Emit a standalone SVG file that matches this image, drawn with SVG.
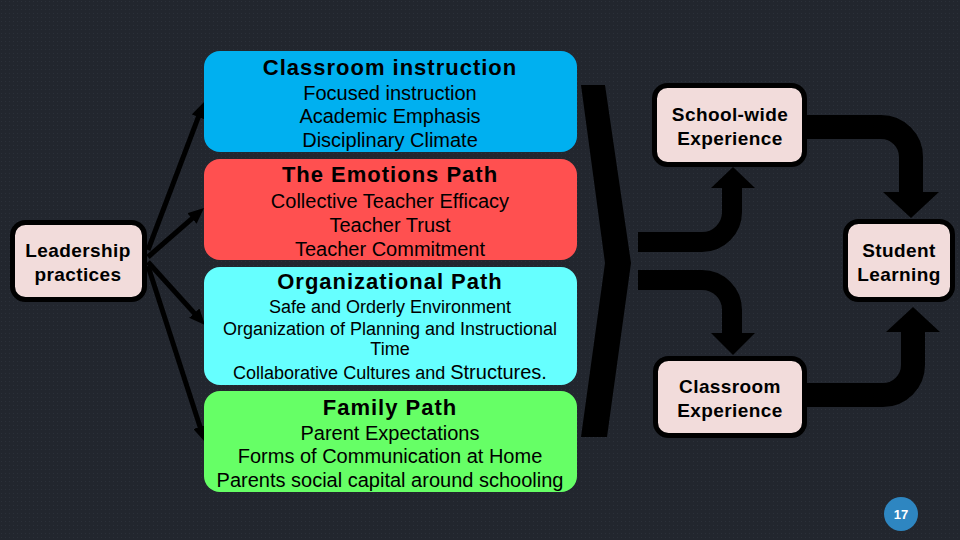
<svg xmlns="http://www.w3.org/2000/svg" width="960" height="540" viewBox="0 0 960 540">
<defs>
<pattern id="dots" width="4" height="4" patternUnits="userSpaceOnUse"><rect width="4" height="4" fill="#22262e"/><rect x="1" y="1" width="1" height="1" fill="#2b3039"/></pattern>
<marker id="ah" markerUnits="userSpaceOnUse" markerWidth="16" markerHeight="14" refX="6" refY="7" orient="auto"><path d="M0,0 L16,7 L0,14 z" fill="#000"/></marker>
</defs>
<style>
.t{font-family:"Liberation Sans",Arial,sans-serif;fill:#000;text-anchor:middle}
.h{font-size:22px;font-weight:bold;letter-spacing:1px}
.r{font-size:20px}
.s{font-size:18px}
.b{font-size:19px;font-weight:bold;letter-spacing:0.4px}
.pk{fill:#f2dcdb;stroke:#000;stroke-width:5}
.ln{stroke:#000;stroke-width:5;fill:none;marker-end:url(#ah)}
.fat{stroke:#000;fill:none}
</style>
<rect width="960" height="540" fill="url(#dots)"/>

<g id="connectors">
<line class="ln" x1="148" y1="250" x2="200.5" y2="111.4"/>
<line class="ln" x1="148" y1="257" x2="196.5" y2="214.6"/>
<line class="ln" x1="148" y1="262" x2="198.3" y2="317.6"/>
<line class="ln" x1="148" y1="266" x2="201.9" y2="432.5"/>
<polygon points="581,85 605,85 631,263 607,437 581,437 605,263" fill="#000"/>
<path class="fat" stroke-width="20" d="M638,242 H702 A30,30 0 0 0 732,212 V187"/>
<polygon points="711,188 755,188 733,167" fill="#000"/>
<path class="fat" stroke-width="20" d="M638,280 H702 A30,30 0 0 1 732,310 V334"/>
<polygon points="711,333 755,333 733,355" fill="#000"/>
<path class="fat" stroke-width="24" d="M806,127 H881 A30,30 0 0 1 911,157 V193"/>
<polygon points="883,192 939,192 911,218" fill="#000"/>
<path class="fat" stroke-width="24" d="M806,395 H883 A30,30 0 0 0 913,365 V331"/>
<polygon points="886,332 940,332 913,307" fill="#000"/>
</g>

<g id="classroom-instruction">
<rect x="204" y="51" width="373" height="101" rx="16" fill="#00b0f0"/>
<text class="t h" x="390" y="75">Classroom instruction</text>
<text class="t r" x="390" y="100">Focused instruction</text>
<text class="t r" x="390" y="123">Academic Emphasis</text>
<text class="t r" x="390" y="147">Disciplinary Climate</text>
</g>

<g id="emotions-path">
<rect x="204" y="159" width="373" height="101" rx="16" fill="#ff5050"/>
<text class="t h" x="390" y="182">The Emotions Path</text>
<text class="t r" x="390" y="208">Collective Teacher Efficacy</text>
<text class="t r" x="390" y="232">Teacher Trust</text>
<text class="t r" x="390" y="256">Teacher Commitment</text>
</g>

<g id="organizational-path">
<rect x="204" y="267" width="373" height="118" rx="16" fill="#66ffff"/>
<text class="t h" x="390" y="289">Organizational Path</text>
<text class="t s" x="390" y="313">Safe and Orderly Environment</text>
<text class="t s" x="390" y="335">Organization of Planning and Instructional</text>
<text class="t s" x="390" y="355">Time</text>
<text class="t s" x="390" y="379">Collaborative Cultures and <tspan font-size="20">Structures.</tspan></text>
</g>

<g id="family-path">
<rect x="204" y="391" width="373" height="101" rx="16" fill="#66ff66"/>
<text class="t h" x="390" y="415">Family Path</text>
<text class="t r" x="390" y="440">Parent Expectations</text>
<text class="t r" x="390" y="463">Forms of Communication at Home</text>
<text class="t r" x="390" y="487">Parents social capital around schooling</text>
</g>

<g id="leadership">
<rect class="pk" x="12.5" y="222.5" width="132" height="77" rx="13"/>
<text class="t b" x="78" y="257">Leadership</text>
<text class="t b" x="78" y="281">practices</text>
</g>

<g id="school-wide">
<rect class="pk" x="654.5" y="85.5" width="150" height="79" rx="13"/>
<text class="t b" x="730" y="121">School-wide</text>
<text class="t b" x="730" y="145">Experience</text>
</g>

<g id="student-learning">
<rect class="pk" x="845.5" y="221.5" width="107" height="78" rx="13"/>
<text class="t b" x="899" y="257">Student</text>
<text class="t b" x="899" y="281">Learning</text>
</g>

<g id="classroom-experience">
<rect class="pk" x="655.5" y="358.5" width="149" height="77" rx="13"/>
<text class="t b" x="730" y="393">Classroom</text>
<text class="t b" x="730" y="417">Experience</text>
</g>

<g id="page-number">
<circle cx="901" cy="514" r="17" fill="#2e86c1"/>
<text class="t" x="901" y="519" font-size="13" font-weight="bold" fill="#fff" style="fill:#fff">17</text>
</g>
</svg>
